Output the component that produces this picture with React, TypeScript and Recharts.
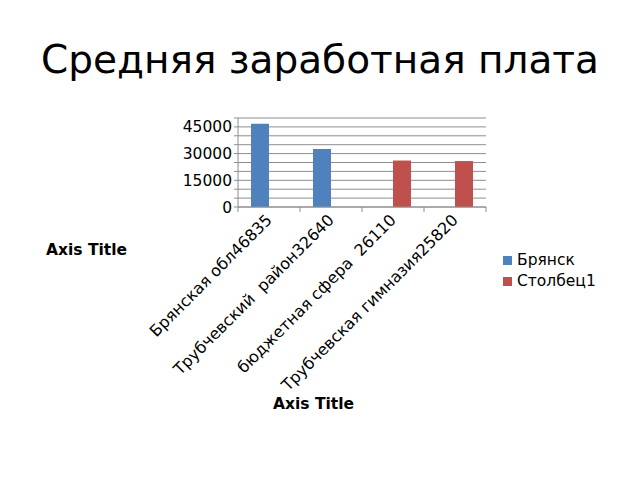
import React from 'react'
import { BarChart, Bar, XAxis, YAxis, CartesianGrid, Legend } from 'recharts'

const categories = ['Брянская обл46835', 'Трубчевский  район32640', 'бюджетная сфера  26110', 'Трубчевская гимназия25820']
const brjansk = [46835, 32640, null, null]
const stolbec1 = [null, null, 26110, 25820]
const yTicks = [0, 5000, 10000, 15000, 20000, 25000, 30000, 35000, 40000, 45000, 50000]

const BLUE = '#4F81BD'
const RED = '#C0504D'
const GRID = '#8E8E8E'
const FONT = 'DejaVu Sans, sans-serif'

const data = categories.map((name, i) => ({ name, brjansk: brjansk[i], stolbec1: stolbec1[i] }))

const XTick = ({ x, y, payload, index }: any) => {
  const half = 31
  return (
    <g>
      <line x1={x - half} y1={y - 8} x2={x - half} y2={y - 3} stroke={GRID} />
      {index === categories.length - 1 && <line x1={x + half} y1={y - 8} x2={x + half} y2={y - 3} stroke={GRID} />}
      <text x={x + 4} y={y + 6} transform={`rotate(-45, ${x + 4}, ${y + 6})`} textAnchor="end"
        fontSize={16} fontFamily={FONT} fill="#000" style={{ whiteSpace: 'pre' }}>{payload.value}</text>
    </g>
  )
}

export default function App() {
  return (
    <div style={{ position: 'absolute', left: 0, top: 0, width: 640, height: 480, background: '#fff', fontFamily: FONT }}>
      <div style={{ position: 'absolute', left: 0, top: 37, width: 640, textAlign: 'center', fontSize: 39, color: '#000' }}>
        Средняя заработная плата
      </div>
      <div style={{ position: 'absolute', left: 46, top: 241, fontSize: 15.5, fontWeight: 'bold' }}>Axis Title</div>
      <div style={{ position: 'absolute', left: 273, top: 395, fontSize: 15.5, fontWeight: 'bold' }}>Axis Title</div>
      <BarChart width={640} height={480} data={data} barGap={0} barCategoryGap={13}
        margin={{ top: 118, right: 154, left: 178, bottom: 93 }}>
        <CartesianGrid vertical={false} stroke={GRID} />
        <XAxis dataKey="name" interval={0} height={180} tick={<XTick />} tickLine={false} axisLine={{ stroke: GRID }} />
        <YAxis domain={[0, 50000]} ticks={yTicks} interval={0} width={60} tickSize={4}
          axisLine={{ stroke: GRID }} tickLine={{ stroke: GRID }}
          tickFormatter={(v: number) => (v % 15000 === 0 ? String(v) : '')}
          tick={{ fontSize: 15.5, fill: '#000', fontFamily: FONT }} />
        <Legend layout="vertical" align="center" verticalAlign="middle" iconType="square" iconSize={9}
          wrapperStyle={{ left: 503, top: 250, width: 130, fontSize: 15.5, lineHeight: '21px', textAlign: 'left' }}
          formatter={(v: string) => <span style={{ color: '#000', marginLeft: 1 }}>{v}</span>} />
        <Bar dataKey="brjansk" name="Брянск" fill={BLUE} isAnimationActive={false} />
        <Bar dataKey="stolbec1" name="Столбец1" fill={RED} isAnimationActive={false} />
      </BarChart>
    </div>
  )
}
